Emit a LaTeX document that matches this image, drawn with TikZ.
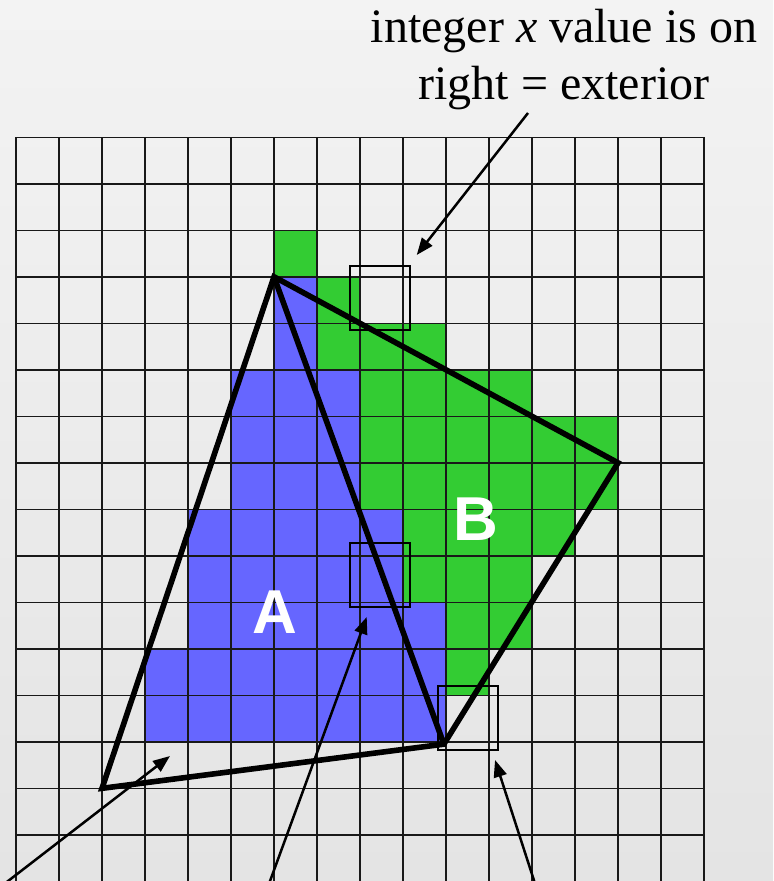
\documentclass[tikz,border=0pt]{standalone}
\usepackage{fontspec}
\setmainfont{Liberation Serif}
\newfontfamily\labelfont{Liberation Sans}
\usetikzlibrary{arrows.meta}
\definecolor{paper}{HTML}{F3F3F3}
\definecolor{paperdark}{HTML}{E4E4E4}
\definecolor{cellblue}{HTML}{6666FF}
\definecolor{cellgreen}{HTML}{33CC33}
\begin{document}
\begin{tikzpicture}[x=43pt,y=-46.5pt,
  gridline/.style={black!90,line width=1.4pt},
  sideline/.style={line width=5.6pt,line join=miter},
  cellbox/.style={draw,line width=2pt,minimum width=60pt,minimum height=64pt,inner sep=0pt},
  pointer/.style={line width=2.5pt,-{Triangle[length=17pt,width=13pt]}},
  trilabel/.style={white,font=\labelfont\bfseries\fontsize{62}{62}\selectfont}]
\useasboundingbox (-0.3721,-2.9527) rectangle (17.605,15.993);
\clip (-0.3721,-2.9527) rectangle (17.605,15.993);
\shade[top color=paper,bottom color=paperdark] (-0.3721,-2.9527) rectangle (17.605,15.993);
% covered cells, one row at a time: row/first col/last col
\foreach \r/\a/\b in {2/6/6,3/7/7,4/7/9,5/8/11,6/8/13,7/8/13,8/9/12,9/9/11,10/10/11,11/10/10}
  \fill[cellgreen] (\a,\r) rectangle (\b+1,\r+1);
\foreach \r/\a/\b in {3/6/6,4/6/6,5/5/7,6/5/7,7/5/7,8/4/8,9/4/8,10/4/9,11/3/9,12/3/9}
  \fill[cellblue] (\a,\r) rectangle (\b+1,\r+1);
\foreach \i in {0,...,16} {\draw[gridline] (\i,0) -- (\i,16); \draw[gridline] (0,\i) -- (16,\i);}
\node[trilabel] (A) at (6.012,10.209) {A};
\node[trilabel] (B) at (10.698,8.209) {B};
% the two triangles
\coordinate (top) at (6,3); \coordinate (right) at (14,7);
\coordinate (bot) at (9.95,13.05); \coordinate (left) at (2,14);
\draw[sideline] (left) -- (top) -- (right) -- (bot) -- cycle;
\draw[sideline] (top) -- (bot);
\node[cellbox] (box1) at (8.465,3.456) {};
\node[cellbox] (box2) at (8.465,9.413) {};
\node[cellbox] (box3) at (10.512,12.488) {};
\node[align=center,font=\fontsize{48}{57}\selectfont] (note) at (12.744,-1.673) {integer \textit{x} value is on\\right = exterior};
\coordinate (from1) at (11.907,-0.523); \coordinate (tip1) at (9.319,2.531);
\coordinate (from2) at (-0.558,16.26); \coordinate (tip2) at (3.581,13.305);
\coordinate (from3) at (5.805,16.252); \coordinate (tip3) at (8.156,10.316);
\coordinate (from4) at (12.14,16.25); \coordinate (tip4) at (11.14,13.39);
\draw[pointer] (from1) -- (tip1);
\draw[pointer] (from2) -- (tip2);
\draw[pointer] (from3) -- (tip3);
\draw[pointer] (from4) -- (tip4);
\end{tikzpicture}
\end{document}
